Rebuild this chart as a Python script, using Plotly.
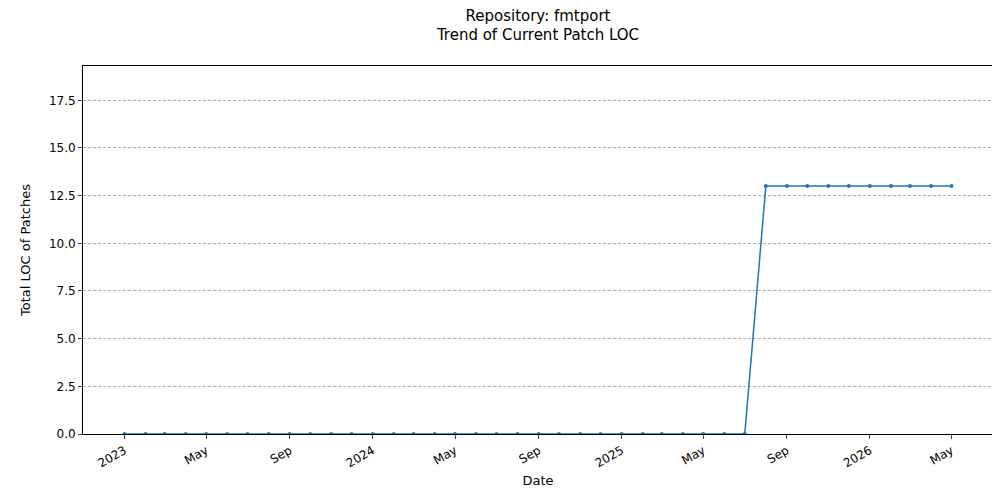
import plotly.graph_objects as go
import pandas as pd

# monthly snapshots, Jan 2023 .. May 2026
dates = pd.date_range("2023-01-01", "2026-05-01", freq="MS")
loc_values = [0] * 31 + [13] * 10

tick_dates = ["2023-01-01", "2023-05-01", "2023-09-01", "2024-01-01", "2024-05-01",
              "2024-09-01", "2025-01-01", "2025-05-01", "2025-09-01", "2026-01-01",
              "2026-05-01"]
tick_labels = ["2023", "May", "Sep", "2024", "May", "Sep", "2025", "May", "Sep", "2026", "May"]

fig = go.Figure()
fig.add_trace(go.Scatter(
    x=dates,
    y=loc_values,
    mode="lines+markers",
    line=dict(color="#1f77b4", width=1.5),
    marker=dict(size=4, color="#1f77b4"),
))

fig.update_layout(
    width=1000, height=500,
    paper_bgcolor="white", plot_bgcolor="white",
    font=dict(family="DejaVu Sans", size=12, color="black"),
    title=dict(text="Repository: fmtport<br>Trend of Current Patch LOC",
               x=0.53, xanchor="center", y=0.975, yanchor="top", font=dict(size=15)),
    margin=dict(l=75, r=15, t=58, b=74),
    showlegend=False,
    xaxis=dict(
        title=dict(text="Date", standoff=6, font=dict(size=13)),
        type="date", automargin=False,
        range=["2022-11-01", "2026-07-01"],
        tickvals=tick_dates, ticktext=tick_labels, tickangle=-30,
        showgrid=False, showline=True, linecolor="black", mirror=True,
        ticks="outside", ticklen=4, zeroline=False,
    ),
    yaxis=dict(
        title=dict(text="Total LOC of Patches", font=dict(size=13)),
        automargin=False,
        range=[0, 19.3], dtick=2.5, tickformat=".1f",
        showgrid=True, gridcolor="#b0b0b0", griddash="3px,2px", gridwidth=0.6,
        showline=True, linecolor="black", mirror=True,
        ticks="outside", ticklen=4, zeroline=False,
    ),
)

fig.write_html("out.html")
